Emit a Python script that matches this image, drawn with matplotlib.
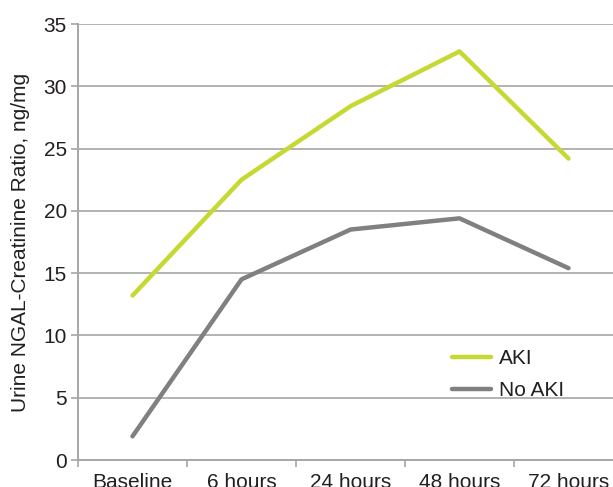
import matplotlib
matplotlib.use("Agg")
from matplotlib import pyplot as plt

# categories and series
timepoints = ["Baseline", "6 hours", "24 hours", "48 hours", "72 hours"]
aki = [13.2, 22.5, 28.4, 32.8, 24.2]
no_aki = [1.9, 14.5, 18.5, 19.4, 15.4]

plt.rcParams['font.family'] = ['Liberation Sans', 'DejaVu Sans']

GRID = '#a6a6a6'
GREEN = '#c5d932'
GRAY = '#808080'
TEXT = '#231f20'
FS = 15

W, H = 613, 487
fig = plt.figure(figsize=(W / 100, H / 100), dpi=100)
# axes run past the right edge of the figure, like the reference
ax = fig.add_axes([78 / W, (H - 460) / H, 545 / W, 436 / H])

x = range(len(timepoints))
ax.plot(x, aki, color=GREEN, lw=3.2, label='AKI', solid_capstyle='round')
ax.plot(x, no_aki, color=GRAY, lw=3.2, label='No AKI', solid_capstyle='round')

ax.set_xlim(-0.5, len(timepoints) - 0.5)
ax.set_ylim(0, 35)
ax.set_yticks(range(0, 36, 5))
ax.set_xticks([i - 0.5 for i in range(len(timepoints) + 1)])
ax.set_xticklabels([])
ax.set_xticks(list(x), minor=True)
ax.set_xticklabels(timepoints, minor=True)
ax.tick_params(axis='x', which='minor', length=0, pad=9, labelsize=FS,
               colors=TEXT)
ax.tick_params(axis='x', which='major', length=5, color=GRID, width=1.2)
ax.tick_params(axis='y', length=5, color=GRID, width=1.2, labelsize=FS,
               labelcolor=TEXT, pad=3)

ax.yaxis.grid(True, color=GRID, lw=1.2)
ax.set_axisbelow(True)
for side in ['top', 'right']:
    ax.spines[side].set_visible(False)
for side in ['left', 'bottom']:
    ax.spines[side].set_color(GRID)
    ax.spines[side].set_linewidth(1.4)

ax.set_ylabel('Urine NGAL-Creatinine Ratio, ng/mg', fontsize=FS,
              color=TEXT, labelpad=10)

ax.legend(loc='upper left', bbox_to_anchor=(452 / W, (H - 349) / H),
          bbox_transform=fig.transFigure, frameon=False, fontsize=FS,
          handlelength=1.85, handletextpad=0.42, labelspacing=0.62,
          borderpad=0, borderaxespad=0, labelcolor=TEXT)

fig.savefig('out.png', dpi=100)
